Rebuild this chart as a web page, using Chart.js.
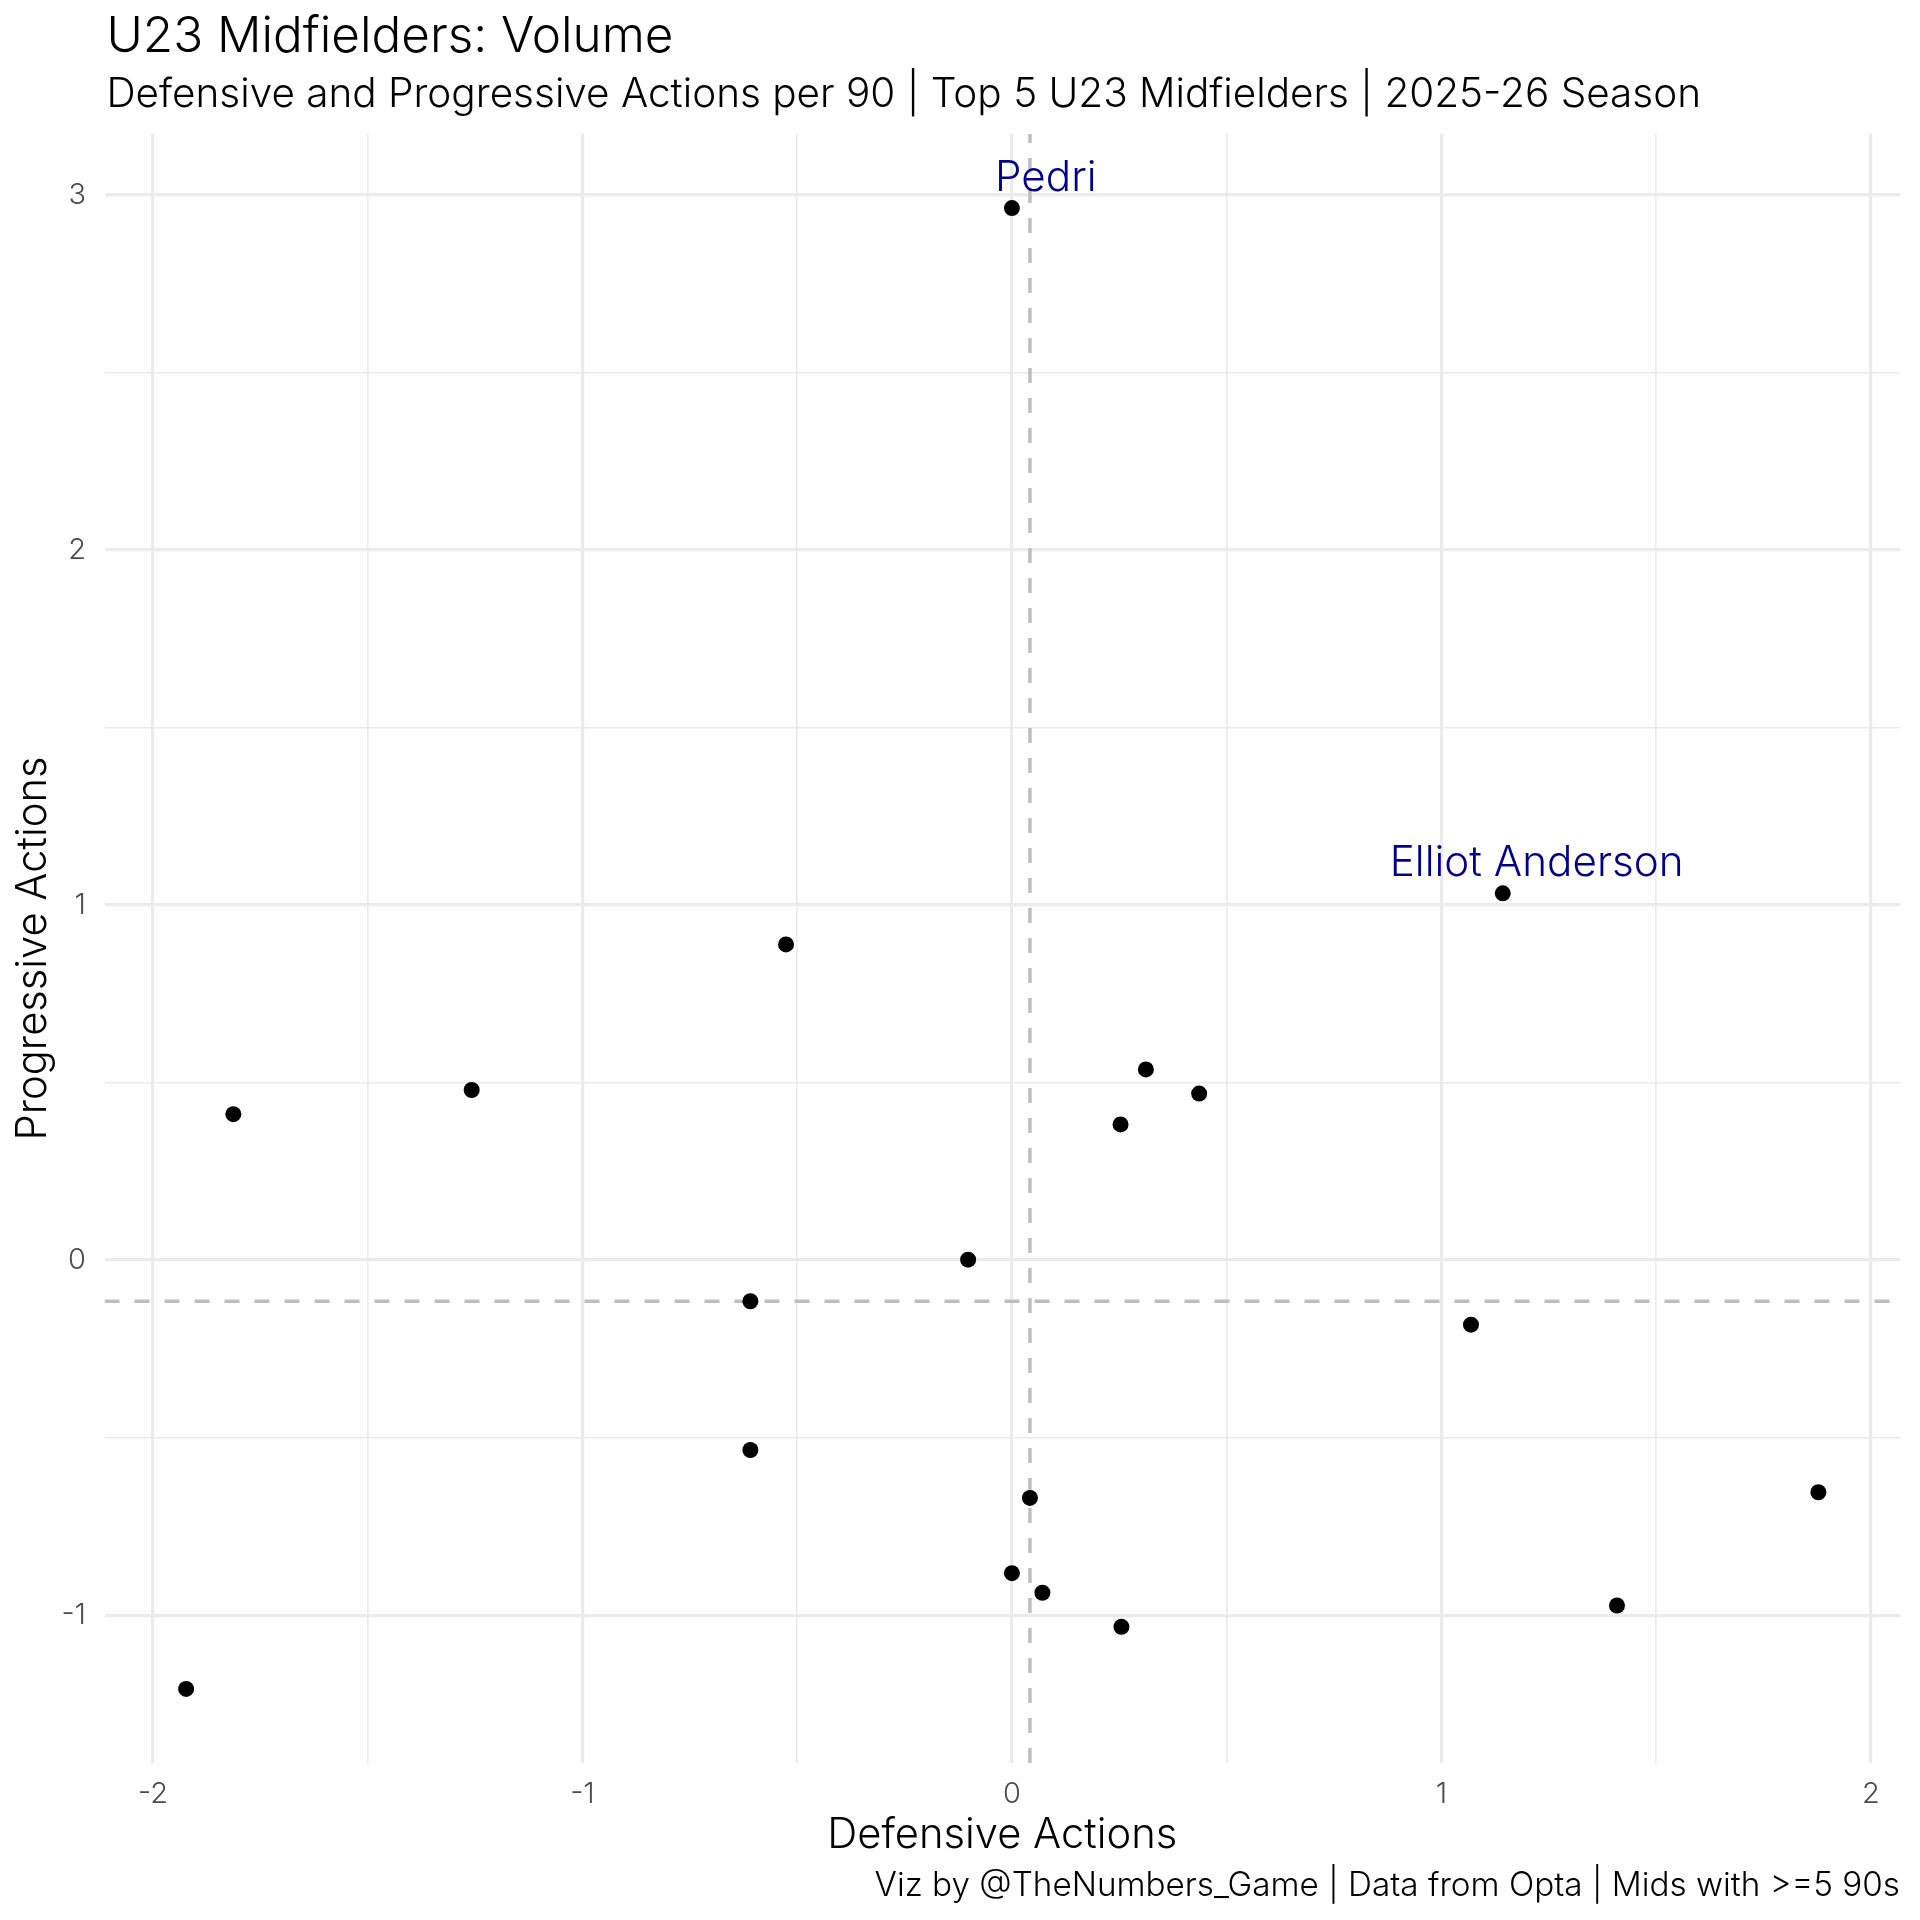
<!DOCTYPE html>
<html>
<head>
<meta charset="utf-8">
<title>U23 Midfielders: Volume</title>
<script src="https://cdn.jsdelivr.net/npm/chart.js@4.4.1/dist/chart.umd.min.js"></script>
<style>
  html, body { margin: 0; padding: 0; background: #ffffff; }
  #wrap { width: 1920px; height: 1920px; position: relative; }
</style>
</head>
<body>
<div id="wrap"><canvas id="mycanvas"></canvas></div>
<script>
// data (z-scores per 90)
var playerNames = ['Pedri', 'Elliot Anderson', '', '', '', '', '', '', '', '', '', '', '', '', '', '', '', '', ''];
var defensiveActions = [0.000, 1.143, -0.526, -1.813, -1.258, 0.312, 0.436, 0.253, -0.102, -0.609,
                        1.069, -0.609, 0.042, 1.878, 0.000, 0.071, 0.255, 1.409, -1.923];
var progressiveActions = [2.963, 1.033, 0.889, 0.411, 0.479, 0.537, 0.469, 0.382, 0.001, -0.116,
                          -0.182, -0.535, -0.670, -0.654, -0.882, -0.937, -1.033, -0.973, -1.208];

var titleText = 'U23 Midfielders: Volume';
var subtitleText = 'Defensive and Progressive Actions per 90 | Top 5 U23 Midfielders | 2025-26 Season';
var captionText = 'Viz by @TheNumbers_Game | Data from Opta | Mids with >=5 90s';
var xTitle = 'Defensive Actions';
var yTitle = 'Progressive Actions';

var FONT = 'Inter, "Open Sans", sans-serif';
var WEIGHT = '300';

// font size that makes a text as wide as it is in the reference
var measureCtx = document.createElement('canvas').getContext('2d');
function fitSize(text, width) {
  measureCtx.font = WEIGHT + ' 100px ' + FONT;
  return 100 * width / measureCtx.measureText(text).width;
}

function median(arr) {
  var s = arr.slice().sort(function(a, b) { return a - b; });
  var m = Math.floor(s.length / 2);
  return s.length % 2 ? s[m] : (s[m - 1] + s[m]) / 2;
}

// ggplot style 5% expansion of the data range
function expand(arr) {
  var lo = Math.min.apply(null, arr), hi = Math.max.apply(null, arr);
  var pad = (hi - lo) * 0.05;
  return [lo - pad, hi + pad];
}

var xRange = expand(defensiveActions);
var yRange = expand(progressiveActions);
var xMedian = median(defensiveActions);
var yMedian = median(progressiveActions);

var points = [];
for (var i in defensiveActions) {
  points.push({ x: defensiveActions[i], y: progressiveActions[i] });
}

var titleSize = fitSize(titleText, 567);
var subtitleSize = fitSize(subtitleText, 1595);
var captionSize = fitSize(captionText, 1026);
var xTitleSize = fitSize(xTitle, 350);
var yTitleSize = fitSize(yTitle, 384);
var labelSize = fitSize('Elliot Anderson', 294);
var tickSize = 29;

function isMajor(v) { return Math.abs(v - Math.round(v)) < 1e-9; }

var textPlugin = {
  id: 'ggText',
  afterDatasetsDraw: function(chart) {
    var ctx = chart.ctx, xs = chart.scales.x, ys = chart.scales.y;
    ctx.save();
    ctx.fillStyle = '#00008B';
    ctx.font = WEIGHT + ' ' + labelSize + 'px ' + FONT;
    ctx.textAlign = 'center';
    ctx.textBaseline = 'middle';
    for (var i in playerNames) {
      if (!playerNames[i]) continue;
      ctx.fillText(playerNames[i],
        xs.getPixelForValue(defensiveActions[i] + 0.079),
        ys.getPixelForValue(progressiveActions[i] + 0.085));
    }
    ctx.restore();
  },
  afterDraw: function(chart) {
    var ctx = chart.ctx, area = chart.chartArea;
    ctx.save();
    ctx.fillStyle = '#000000';
    ctx.textBaseline = 'alphabetic';
    ctx.textAlign = 'left';
    ctx.font = WEIGHT + ' ' + titleSize + 'px ' + FONT;
    ctx.fillText(titleText, area.left + 2, 52);
    ctx.font = WEIGHT + ' ' + subtitleSize + 'px ' + FONT;
    ctx.fillText(subtitleText, area.left + 2, 107);
    ctx.textAlign = 'right';
    ctx.font = WEIGHT + ' ' + captionSize + 'px ' + FONT;
    ctx.fillText(captionText, area.right, 1896);
    ctx.restore();
  }
};

var gridOpts = {
  color: '#EBEBEB',
  drawTicks: false,
  lineWidth: function(c) { return c.tick && isMajor(c.tick.value) ? 3.2 : 1.6; }
};

var ctx = document.getElementById('mycanvas');

var scatter = new Chart(ctx, {
  type: 'scatter',
  data: {
    datasets: [
      {
        label: 'Players',
        data: points,
        backgroundColor: '#000000',
        borderWidth: 0,
        pointRadius: 8,
        pointHoverRadius: 8
      },
      {
        label: 'Median progressive',
        data: [{ x: xRange[0], y: yMedian }, { x: xRange[1], y: yMedian }],
        showLine: true,
        borderColor: '#BEBEBE',
        borderWidth: 3.5,
        borderDash: [15, 15],
        pointRadius: 0,
        pointHoverRadius: 0
      },
      {
        label: 'Median defensive',
        data: [{ x: xMedian, y: yRange[0] }, { x: xMedian, y: yRange[1] }],
        showLine: true,
        borderColor: '#BEBEBE',
        borderWidth: 3.5,
        borderDash: [15, 15],
        pointRadius: 0,
        pointHoverRadius: 0
      }
    ]
  },
  options: {
    responsive: true,
    maintainAspectRatio: false,
    devicePixelRatio: 1,
    animation: false,
    events: [],
    layout: { padding: { top: 134, right: 20, bottom: 0, left: 0 } },
    scales: {
      x: {
        type: 'linear',
        min: xRange[0],
        max: xRange[1],
        afterFit: function(scale) { scale.height = 157; },
        border: { display: false },
        grid: gridOpts,
        ticks: {
          stepSize: 0.5,
          includeBounds: false,
          autoSkip: false,
          maxRotation: 0,
          padding: 14,
          color: '#4D4D4D',
          font: { family: FONT, size: tickSize, weight: WEIGHT },
          callback: function(v) { return isMajor(v) ? String(Math.round(v)) : ''; }
        },
        title: {
          display: true,
          text: xTitle,
          color: '#000000',
          font: { family: FONT, size: xTitleSize, weight: WEIGHT, lineHeight: 1 },
          padding: { top: 0, bottom: 1920 - 1835 - xTitleSize / 2 }
        }
      },
      y: {
        type: 'linear',
        min: yRange[0],
        max: yRange[1],
        afterFit: function(scale) { scale.width = 104.5; },
        border: { display: false },
        grid: gridOpts,
        ticks: {
          stepSize: 0.5,
          includeBounds: false,
          autoSkip: false,
          padding: 18.5,
          color: '#4D4D4D',
          font: { family: FONT, size: tickSize, weight: WEIGHT },
          callback: function(v) { return isMajor(v) ? String(Math.round(v)) : ''; }
        },
        title: {
          display: true,
          text: yTitle,
          color: '#000000',
          font: { family: FONT, size: yTitleSize, weight: WEIGHT, lineHeight: 1 },
          padding: { top: 33 - yTitleSize / 2, bottom: 0 }
        }
      }
    },
    plugins: {
      legend: { display: false },
      tooltip: { enabled: false },
      title: { display: false }
    }
  },
  plugins: [textPlugin]
});
</script>
</body>
</html>
